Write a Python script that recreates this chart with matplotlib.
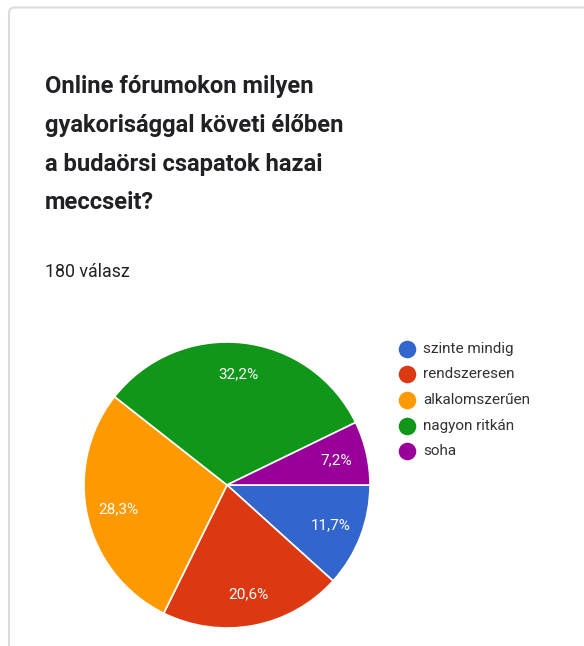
import matplotlib
matplotlib.use("Agg")
import matplotlib.pyplot as plt
from matplotlib.patches import FancyBboxPatch

plt.rcParams['font.family'] = ['Roboto', 'DejaVu Sans']

# answers, clockwise from 3 o'clock
labels = ['szinte mindig', 'rendszeresen', 'alkalomszerűen', 'nagyon ritkán', 'soha']
shares = [11.7, 20.6, 28.3, 32.2, 7.2]
colors = ['#3366cc', '#dc3912', '#ff9900', '#109618', '#990099']
title_lines = ['Online fórumokon milyen',
               'gyakorisággal követi élőben',
               'a budaörsi csapatok hazai',
               'meccseit?']
n_answers = 180

W, H = 584, 646
fig = plt.figure(figsize=(W / 100, H / 100), dpi=100)
fig.patch.set_facecolor('white')

# overlay axes in pixel coordinates (y grows downward)
bg = fig.add_axes([0, 0, 1, 1])
bg.set_xlim(0, W)
bg.set_ylim(H, 0)
bg.axis('off')

# card outline
card = FancyBboxPatch((9, 7.5), W + 20, H + 20, boxstyle='round,pad=0,rounding_size=6',
                      facecolor='white', edgecolor='#dadce0', linewidth=1.5)
bg.add_patch(card)

y = 87
for line in title_lines:
    bg.text(45, y, line, fontsize=17.1, fontweight='bold', color='#202124',
            va='center', ha='left')
    y += 38.5

bg.text(45, 272, f'{n_answers} válasz', fontsize=12.8, color='#202124',
        va='center', ha='left')

# legend
for i, (lab, col) in enumerate(zip(labels, colors)):
    ly = 348.5 + i * 25.7
    bg.scatter([407], [ly], s=160, color=col, linewidths=0)
    bg.text(423, ly, lab, fontsize=11, color='#333333', va='center', ha='left')

# pie
cx, cy, r = 227, 485, 143
ax = fig.add_axes([(cx - r) / W, (H - cy - r) / H, 2 * r / W, 2 * r / H])
wedges, texts, autotexts = ax.pie(
    shares, colors=colors, startangle=0, counterclock=False, radius=1,
    autopct=lambda p: f'{p:.1f}'.replace('.', ',') + '%', pctdistance=0.78,
    wedgeprops=dict(edgecolor='white', linewidth=1.2),
    textprops=dict(color='white', fontsize=11))
ax.set_xlim(-1, 1)
ax.set_ylim(-1, 1)
ax.axis('off')

fig.savefig('out.png', dpi=100, facecolor='white')
